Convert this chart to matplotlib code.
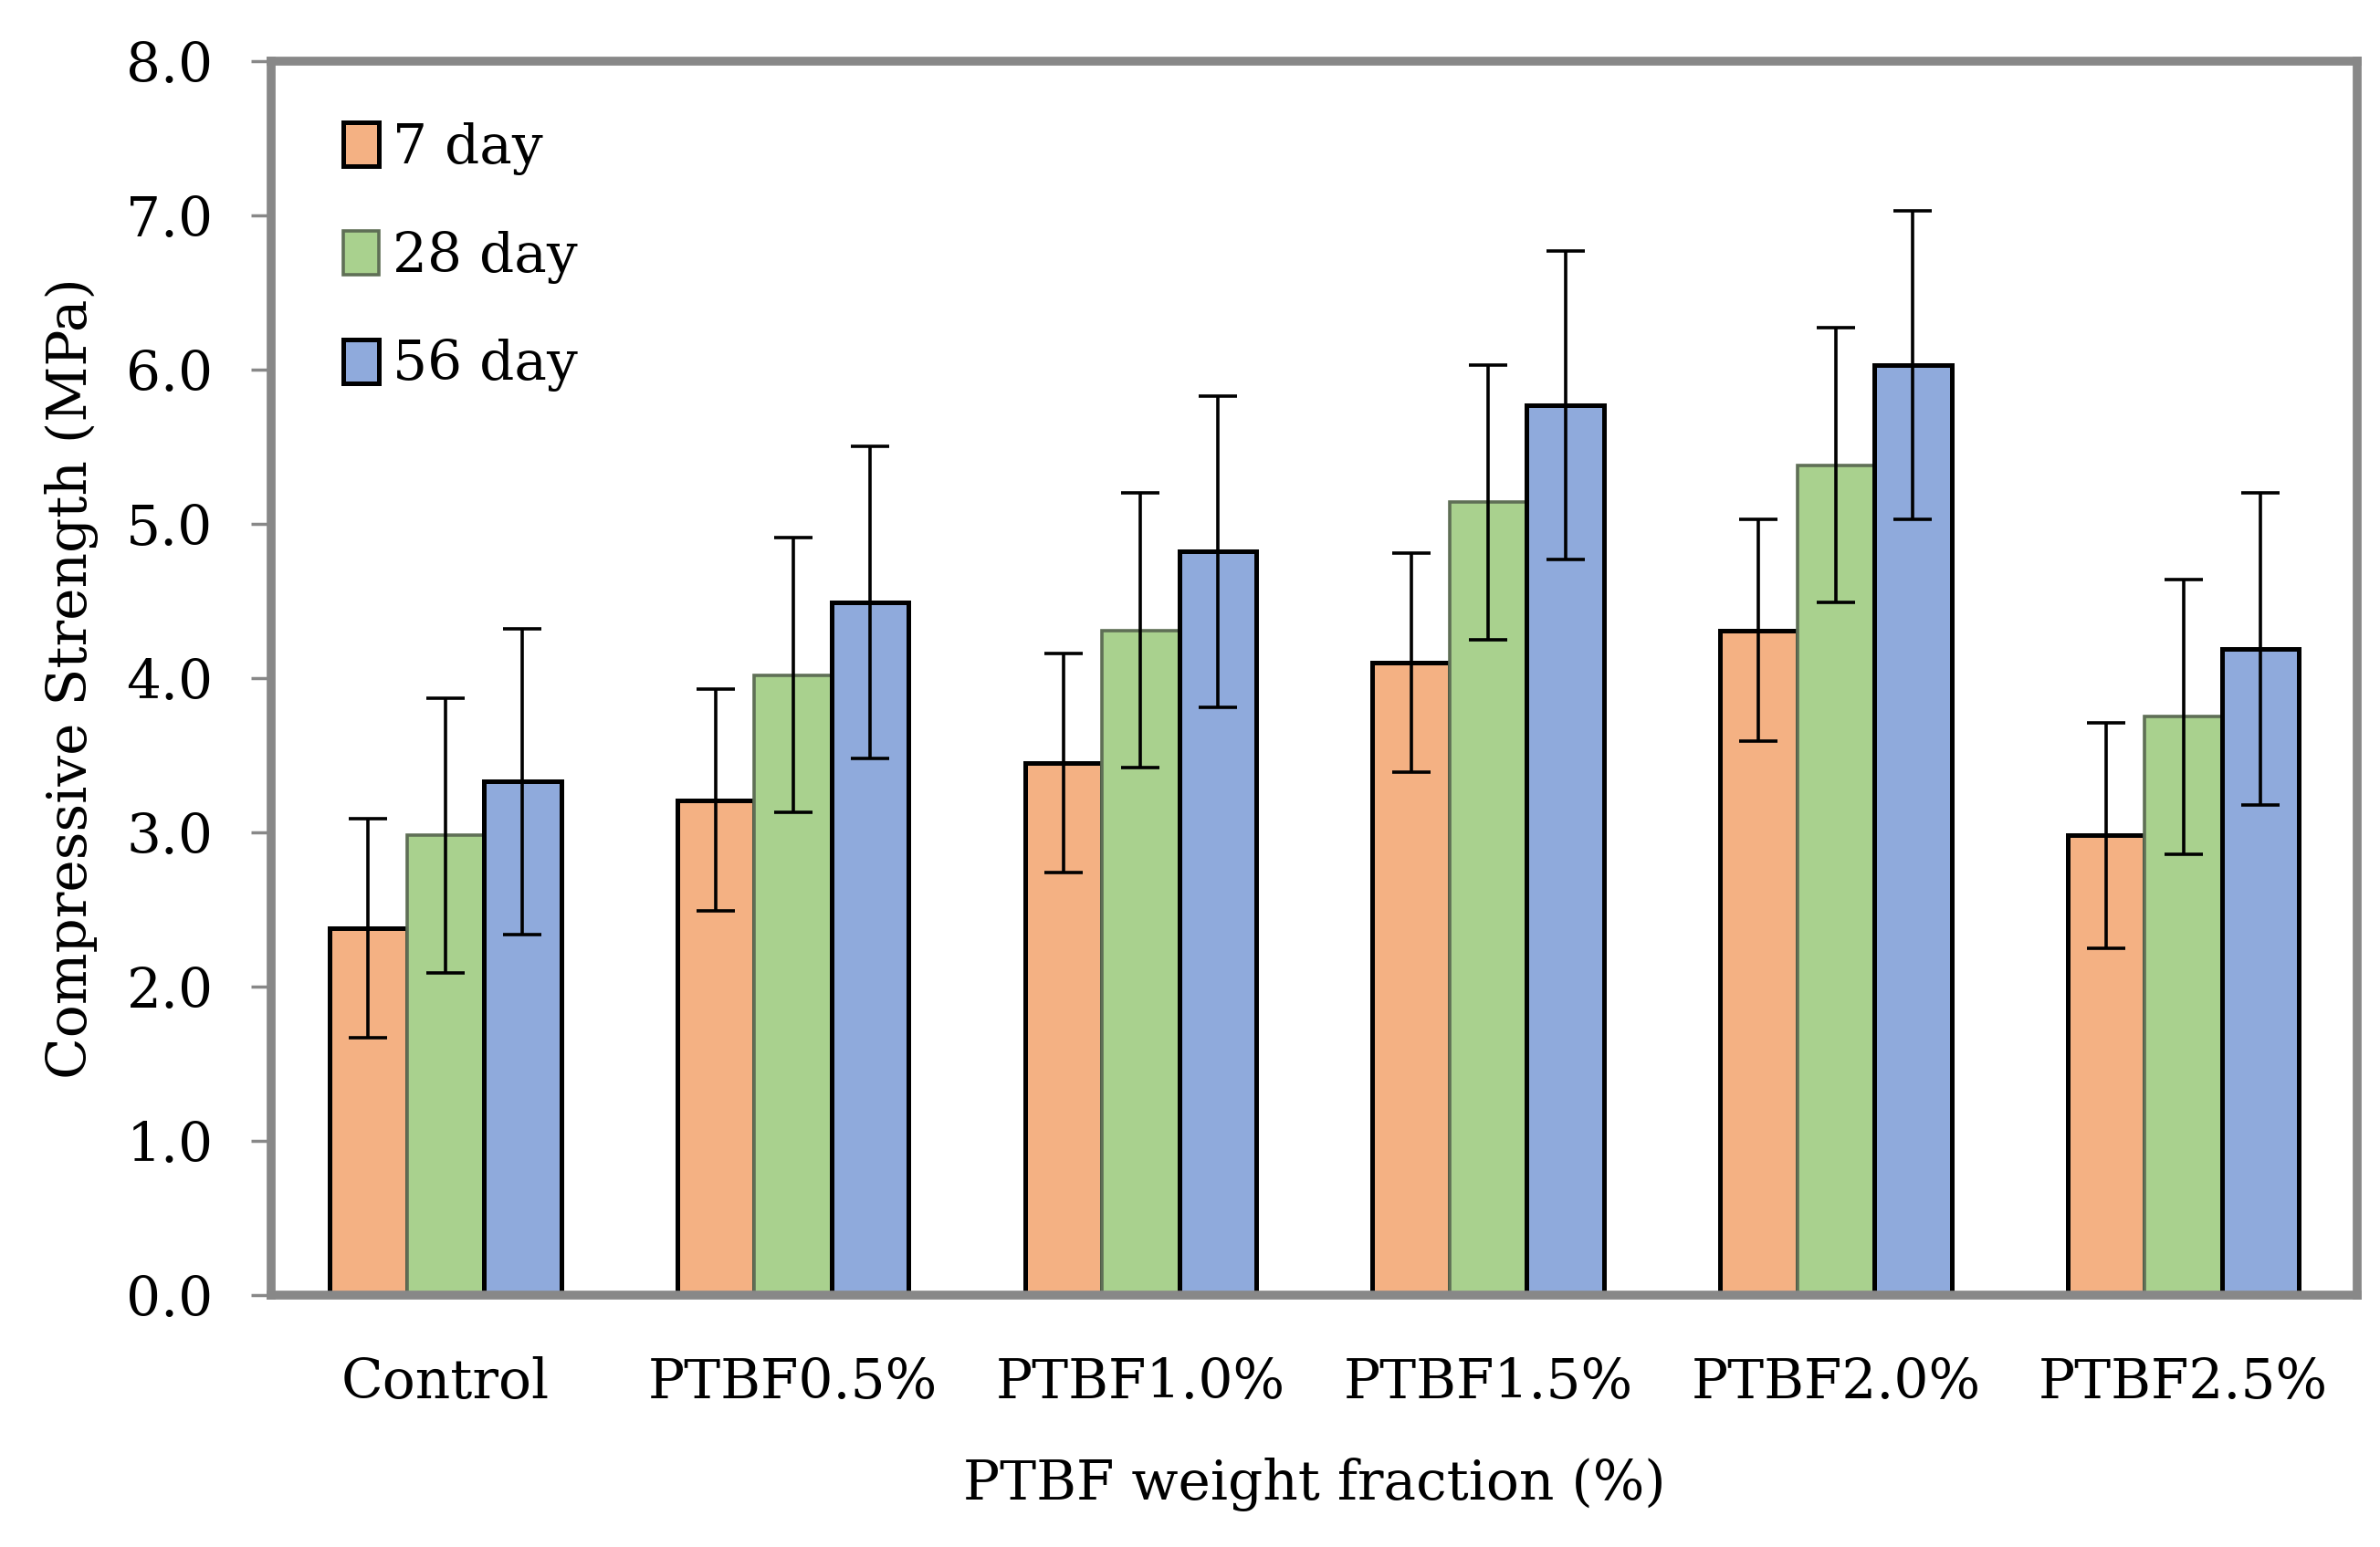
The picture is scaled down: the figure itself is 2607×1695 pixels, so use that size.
import matplotlib
matplotlib.use("Agg")
import matplotlib.pyplot as plt
import numpy as np

categories = ["Control", "PTBF0.5%", "PTBF1.0%", "PTBF1.5%", "PTBF2.0%", "PTBF2.5%"]
series_names = ["7 day", "28 day", "56 day"]
day7 = [2.38, 3.21, 3.45, 4.10, 4.31, 2.98]
day28 = [2.98, 4.02, 4.31, 5.14, 5.38, 3.75]
day56 = [3.33, 4.49, 4.82, 5.77, 6.03, 4.19]
err7 = [0.71, 0.72, 0.71, 0.71, 0.72, 0.73]
err28 = [0.89, 0.89, 0.89, 0.89, 0.89, 0.89]
err56 = [0.99, 1.01, 1.01, 1.00, 1.00, 1.01]
yticks = [0.0, 1.0, 2.0, 3.0, 4.0, 5.0, 6.0, 7.0, 8.0]

colors = ["#F4B183", "#A9D18E", "#8FAADC"]
edges = ["black", "#5f6f56", "black"]

plt.rcParams['font.family'] = ['DejaVu Serif']
fig = plt.figure(figsize=(26.07, 16.95), dpi=100)
ax = fig.add_axes([0.1141, 0.1627, 0.8763, 0.7979])

x = np.arange(len(categories))
w = 0.222
vals = [day7, day28, day56]
errs = [err7, err28, err56]
for i in range(3):
    ax.bar(x + (i - 1) * w, vals[i], w, color=colors[i], edgecolor=edges[i],
           linewidth=3.6 if i != 1 else 2.6, label=series_names[i], zorder=2)
for i in range(3):
    ax.errorbar(x + (i - 1) * w, vals[i], yerr=errs[i], fmt='none', ecolor='black',
                elinewidth=2.6, capsize=15, capthick=2.6, zorder=3)

fs = 43
ax.set_xlim(-0.5, 5.5)
ax.set_ylim(0, 8)
ax.set_yticks(yticks)
ax.set_yticklabels([f"{v:.1f}" for v in yticks])
ax.set_xticks(x)
ax.set_xticklabels(categories)
ax.tick_params(axis='x', length=0, pad=48, labelsize=fs)
ax.tick_params(axis='y', length=16, width=2.5, color='#888888', pad=30, labelsize=fs)
for s in ax.spines.values():
    s.set_color('#888888')
    s.set_linewidth(7)

ax.set_xlabel("PTBF weight fraction (%)", fontsize=fs, labelpad=38)
ax.set_ylabel("Compressive Strength (MPa)", fontsize=fs, labelpad=22)

leg = ax.legend(loc='upper left', bbox_to_anchor=(0.016, 0.982), frameon=False,
                fontsize=fs, handlelength=0.65, handleheight=0.85, handletextpad=0.25,
                labelspacing=1.0, borderaxespad=0.3)

fig.savefig("out.png", dpi=100)
